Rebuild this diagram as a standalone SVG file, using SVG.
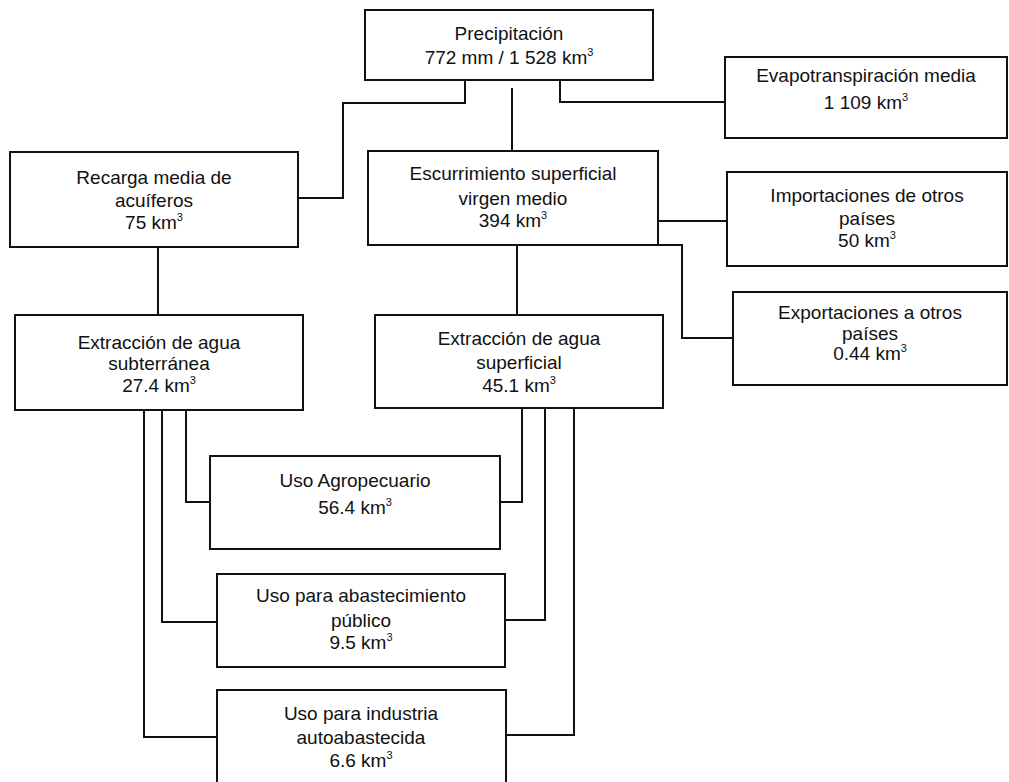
<svg xmlns="http://www.w3.org/2000/svg" width="1009" height="782" viewBox="0 0 1009 782">
<style>
.box{fill:#fff;stroke:#111;stroke-width:2}
.t{font-family:"Liberation Sans",Arial,sans-serif;font-size:19px;fill:#111;text-anchor:middle}
.sup{font-size:11px}
.c{fill:none;stroke:#111;stroke-width:2}
</style>
<rect width="1009" height="782" fill="#fff"/>
<g id="connectors">
<polyline class="c" points="465,80 465,103 343,103 343,198 298,198"/>
<line class="c" x1="512" y1="88" x2="512" y2="152"/>
<polyline class="c" points="560,80 560,102 725,102"/>
<line class="c" x1="658" y1="221" x2="727" y2="221"/>
<polyline class="c" points="658,245 682,245 682,338 733,338"/>
<line class="c" x1="158" y1="247" x2="158" y2="315"/>
<line class="c" x1="517" y1="245" x2="517" y2="315"/>
<polyline class="c" points="186,410 186,502 210,502"/>
<polyline class="c" points="522,408 522,502 500,502"/>
<polyline class="c" points="162,410 162,622 217,622"/>
<polyline class="c" points="545,408 545,620 505,620"/>
<polyline class="c" points="144,410 144,737 217,737"/>
<polyline class="c" points="574,408 574,735 506,735"/>
</g>
<g id="precipitacion">
<rect class="box" x="365" y="10" width="288" height="70"/>
<text class="t" x="509" y="40">Precipitación</text>
<text class="t" x="509" y="64">772 mm / 1 528 km<tspan class="sup" dy="-8">3</tspan></text>
</g>
<g id="evapotranspiracion">
<rect class="box" x="725" y="57" width="282" height="81"/>
<text class="t" x="866" y="82">Evapotranspiración media</text>
<text class="t" x="866" y="109">1 109 km<tspan class="sup" dy="-8">3</tspan></text>
</g>
<g id="recarga">
<rect class="box" x="10" y="152" width="288" height="95"/>
<text class="t" x="154" y="184">Recarga media de</text>
<text class="t" x="154" y="207">acuíferos</text>
<text class="t" x="154" y="229">75 km<tspan class="sup" dy="-8">3</tspan></text>
</g>
<g id="escurrimiento">
<rect class="box" x="368" y="151" width="290" height="94"/>
<text class="t" x="513" y="180">Escurrimiento superficial</text>
<text class="t" x="513" y="205">virgen medio</text>
<text class="t" x="513" y="227">394 km<tspan class="sup" dy="-8">3</tspan></text>
</g>
<g id="importaciones">
<rect class="box" x="727" y="172" width="280" height="94"/>
<text class="t" x="867" y="202">Importaciones de otros</text>
<text class="t" x="867" y="225">países</text>
<text class="t" x="867" y="247">50 km<tspan class="sup" dy="-8">3</tspan></text>
</g>
<g id="exportaciones">
<rect class="box" x="733" y="292" width="274" height="93"/>
<text class="t" x="870" y="319">Exportaciones a otros</text>
<text class="t" x="870" y="340">países</text>
<text class="t" x="870" y="360">0.44 km<tspan class="sup" dy="-8">3</tspan></text>
</g>
<g id="extraccion-subterranea">
<rect class="box" x="15" y="315" width="288" height="95"/>
<text class="t" x="159" y="349">Extracción de agua</text>
<text class="t" x="159" y="370">subterránea</text>
<text class="t" x="159" y="392">27.4 km<tspan class="sup" dy="-8">3</tspan></text>
</g>
<g id="extraccion-superficial">
<rect class="box" x="375" y="315" width="288" height="93"/>
<text class="t" x="519" y="345">Extracción de agua</text>
<text class="t" x="519" y="369">superficial</text>
<text class="t" x="519" y="392">45.1 km<tspan class="sup" dy="-8">3</tspan></text>
</g>
<g id="uso-agropecuario">
<rect class="box" x="210" y="456" width="290" height="93"/>
<text class="t" x="355" y="487">Uso Agropecuario</text>
<text class="t" x="355" y="514">56.4 km<tspan class="sup" dy="-8">3</tspan></text>
</g>
<g id="uso-abastecimiento">
<rect class="box" x="217" y="574" width="288" height="93"/>
<text class="t" x="361" y="602">Uso para abastecimiento</text>
<text class="t" x="361" y="627">público</text>
<text class="t" x="361" y="649">9.5 km<tspan class="sup" dy="-8">3</tspan></text>
</g>
<g id="uso-industria">
<rect class="box" x="217" y="690" width="289" height="110"/>
<text class="t" x="361" y="720">Uso para industria</text>
<text class="t" x="361" y="744">autoabastecida</text>
<text class="t" x="361" y="767">6.6 km<tspan class="sup" dy="-8">3</tspan></text>
</g>
</svg>
